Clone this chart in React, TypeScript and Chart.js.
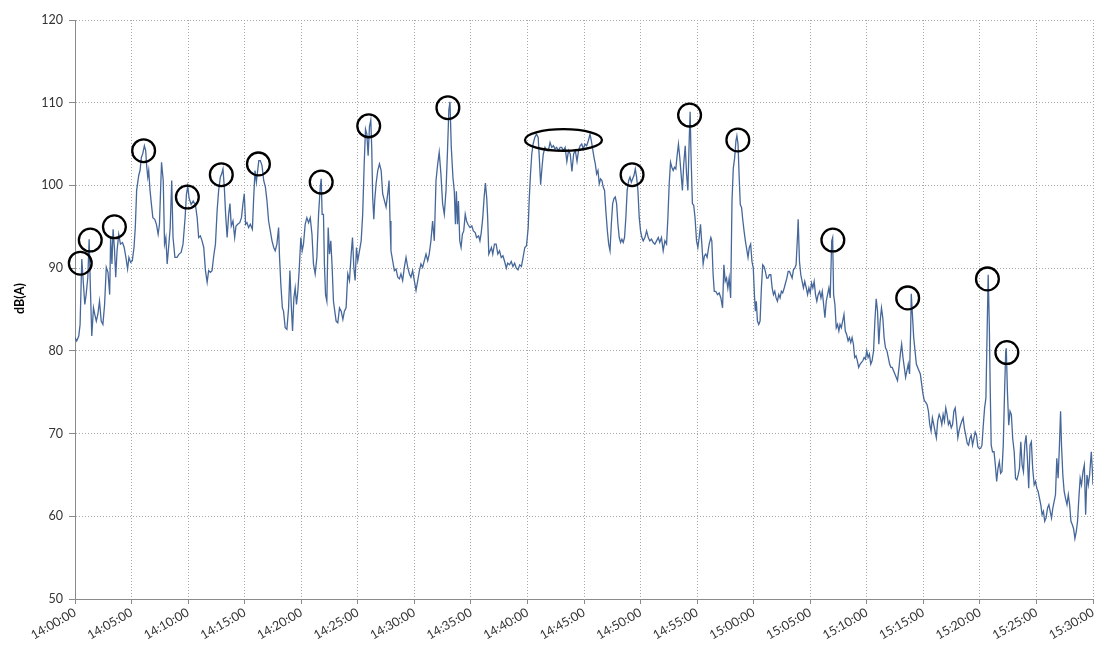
import { useEffect, useRef } from "react";
import { Chart, registerables } from "chart.js";

Chart.register(...registerables);

// ---- data -------------------------------------------------------------
const START_HOUR = 14; // 14:00:00
const X_MIN = 0;
const X_MAX = 5400; // seconds after 14:00:00 (15:30:00)
const X_TICK_STEP = 300; // 5 minutes
const Y_MIN = 50;
const Y_MAX = 120;
const Y_TICK_STEP = 10;
const Y_TITLE = "dB(A)";

// sample times, seconds after 14:00:00
const SECONDS: number[] = [
  0, 9, 20, 27, 36, 45, 52, 59, 68, 75, 82, 89, 98, 105, 113, 121, 130, 139, 148, 157, 166, 175, 184, 189, 196, 202, 209, 216, 223, 232, 241, 252, 261, 270, 279, 286, 295, 304, 313, 320, 327, 338, 345, 352, 359, 368, 375, 380, 386, 391, 398, 405, 413, 423, 432, 441, 448, 459, 468, 475, 482, 489, 498, 505, 513, 520, 530, 541, 552, 563, 573, 584, 591, 598, 605, 616, 627,
  639, 648, 656, 665, 674, 683, 692, 701, 709, 718, 727, 736, 745, 754, 762, 771, 778, 785, 792, 799, 807, 815, 822, 829, 838, 847, 854, 863, 874, 883, 891, 898, 905, 912, 921, 930, 941, 948, 955, 962, 969, 975, 983, 992, 1001, 1010, 1018, 1027, 1036, 1045, 1054, 1062, 1071, 1080, 1085, 1092, 1100, 1106, 1115, 1124, 1133, 1140, 1147, 1154, 1161, 1168, 1175, 1182, 1189, 1198, 1205, 1212, 1221, 1230, 1239, 1248, 1257, 1265, 1274, 1283, 1292, 1301, 1306,
  1311, 1318, 1323, 1329, 1336, 1343, 1350, 1357, 1364, 1371, 1378, 1385, 1394, 1403, 1412, 1421, 1429, 1438, 1447, 1456, 1465, 1472, 1479, 1486, 1493, 1500, 1509, 1518, 1526, 1534, 1541, 1548, 1555, 1562, 1569, 1574, 1579, 1585, 1590, 1597, 1606, 1615, 1624, 1632, 1641, 1650, 1659, 1666, 1671, 1676, 1685, 1694, 1703, 1712, 1721, 1729, 1738, 1747, 1756, 1765, 1774, 1782, 1791, 1800, 1809, 1818, 1827, 1835, 1844, 1853, 1862, 1871, 1879, 1888, 1897, 1906, 1915, 1924, 1932, 1941, 1950, 1959, 1968, 1976, 1983, 1989, 1996,
  2005, 2012, 2018, 2023, 2029, 2034, 2041, 2048, 2055, 2062, 2070, 2077, 2084, 2095, 2105, 2113, 2123, 2130, 2141, 2148, 2155, 2163, 2170, 2177, 2184, 2189, 2195, 2202, 2209, 2216, 2225, 2234, 2243, 2252, 2261, 2270, 2279, 2288, 2295, 2305, 2314, 2323, 2332, 2341, 2350, 2359, 2368, 2377, 2386, 2395, 2404, 2409, 2416, 2423, 2430, 2439, 2448, 2457, 2463, 2470, 2477, 2484, 2493, 2502, 2511, 2520, 2529, 2538, 2546, 2555, 2564, 2573, 2582, 2591, 2600, 2609, 2618, 2627, 2636, 2645, 2654, 2663, 2671,
  2679, 2688, 2696, 2705, 2714, 2723, 2732, 2739, 2746, 2753, 2760, 2767, 2774, 2781, 2788, 2795, 2802, 2809, 2816, 2824, 2831, 2838, 2845, 2852, 2859, 2866, 2873, 2880, 2887, 2894, 2901, 2908, 2915, 2922, 2929, 2937, 2944, 2951, 2958, 2965, 2972, 2979, 2986, 2993, 3000, 3007, 3014, 3023, 3032, 3041, 3049, 3058, 3067, 3076, 3085, 3094, 3102, 3111, 3120, 3129, 3138, 3145, 3152, 3159, 3166, 3173, 3180, 3187, 3194, 3201, 3208, 3215, 3222, 3229, 3237, 3244, 3251, 3258, 3263, 3268, 3275, 3282, 3289, 3297, 3304, 3311, 3318, 3325, 3332, 3339, 3346, 3353,
  3364, 3373, 3378, 3385, 3391, 3399, 3408, 3417, 3426, 3435, 3442, 3449, 3456, 3463, 3470, 3478, 3485, 3492, 3499, 3506, 3511, 3517, 3524, 3529, 3536, 3541, 3549, 3556, 3563, 3570, 3577, 3584, 3591, 3598, 3604, 3609, 3614, 3620, 3627, 3634, 3641, 3648, 3655, 3662, 3669, 3676, 3683, 3691, 3698, 3705, 3712, 3719, 3726, 3733, 3740, 3747, 3754, 3762, 3769, 3776, 3783, 3790, 3797, 3804, 3811, 3818, 3825, 3833, 3836, 3843, 3850, 3857, 3864, 3871, 3879, 3886, 3893, 3900, 3907, 3914, 3921, 3928, 3935, 3942, 3950, 3957, 3964, 3971, 3978, 3985, 3992, 3999, 4006, 4014, 4019, 4024, 4031, 4038, 4045, 4052,
  4058, 4065, 4072, 4079, 4086, 4093, 4101, 4108, 4115, 4122, 4129, 4136, 4143, 4150, 4157, 4165, 4172, 4179, 4186, 4193, 4200, 4207, 4214, 4221, 4228, 4236, 4243, 4250, 4257, 4264, 4271, 4278, 4285, 4292, 4299, 4307, 4314, 4321, 4328, 4335, 4342, 4349, 4356, 4363, 4371, 4378, 4385, 4392, 4399, 4406, 4413, 4420, 4427, 4433, 4436, 4441, 4449, 4456, 4463, 4470, 4477, 4484, 4491, 4498, 4505, 4512, 4520, 4527, 4534, 4541, 4548, 4555, 4562, 4569, 4576, 4584, 4591, 4598, 4605, 4612, 4619, 4626, 4633, 4640, 4648, 4655, 4662, 4669, 4676, 4683,
  4690, 4697, 4704, 4711, 4718, 4725, 4733, 4740, 4747, 4754, 4761, 4768, 4775, 4782, 4789, 4796, 4804, 4811, 4818, 4825, 4832, 4839, 4844, 4850, 4855, 4860, 4867, 4875, 4882, 4889, 4896, 4903, 4910, 4917, 4924, 4931, 4937, 4940, 4946, 4953, 4960, 4967, 4974, 4982, 4989, 4996, 5003, 5010, 5017, 5024, 5031, 5038, 5045, 5052, 5059, 5066, 5073, 5080, 5088, 5095, 5102, 5109, 5116, 5123, 5130, 5137, 5144, 5151, 5159, 5166, 5173, 5180, 5187, 5194, 5201, 5208, 5215, 5222, 5228, 5233, 5240, 5247, 5254, 5262, 5269, 5276, 5283, 5290, 5297, 5304, 5311, 5318, 5325, 5332, 5339, 5347, 5354, 5361, 5368, 5375, 5382, 5391, 5396, 5400,
];

// sound level, dB(A)
const LEVELS: number[] = [
  81.6, 81.2, 81.8, 83.2, 91.1, 88.0, 85.6, 86.8, 88.9, 93.5, 87.3, 81.8, 85.2, 84.4, 83.6, 84.4, 86.0, 83.6, 83.2, 85.6, 90.1, 89.5, 86.8, 93.7, 90.5, 94.7, 92.5, 88.9, 92.1, 94.1, 92.9, 93.1, 92.5, 91.3, 89.9, 91.3, 90.7, 90.9, 92.5, 95.0, 99.4, 101.2, 101.8, 103.4, 103.8, 104.8, 104.2, 102.4, 101.0, 101.8, 99.4, 97.8, 96.1, 95.9, 95.3, 94.1, 95.3, 102.8, 100.6, 92.9, 93.7, 90.5, 92.9, 94.9, 100.6, 93.7, 91.3, 91.3, 91.7, 91.9, 92.9, 96.1, 98.9, 99.9, 98.5, 97.7, 98.1,
  97.6, 96.1, 93.7, 93.9, 93.3, 92.5, 89.7, 88.3, 89.7, 89.5, 89.7, 91.5, 92.9, 97.0, 99.4, 101.0, 101.4, 102.0, 99.8, 96.5, 93.7, 96.5, 97.8, 95.1, 95.7, 93.7, 95.1, 95.3, 95.5, 96.1, 97.8, 99.0, 95.3, 95.5, 94.9, 95.3, 94.7, 98.6, 101.8, 100.4, 101.8, 103.0, 103.0, 102.4, 100.6, 99.8, 98.2, 95.7, 94.5, 93.3, 92.5, 92.1, 92.9, 94.9, 91.3, 88.0, 85.2, 84.8, 82.8, 82.6, 85.2, 89.7, 85.6, 82.4, 86.4, 87.6, 85.6, 87.2, 89.7, 93.7, 92.1, 92.9, 95.3, 96.1, 95.5, 96.1, 94.1, 90.5, 89.3, 91.3, 96.5, 99.8, 100.8,
  96.5, 96.5, 90.5, 86.8, 86.0, 94.9, 91.7, 93.3, 90.1, 86.0, 84.8, 83.6, 83.4, 85.2, 84.8, 83.8, 84.8, 85.2, 89.3, 88.5, 91.7, 93.7, 90.1, 88.5, 92.5, 90.9, 92.1, 93.3, 96.5, 102.6, 106.8, 106.2, 103.6, 107.1, 107.9, 104.6, 98.6, 95.9, 98.2, 100.2, 101.8, 102.6, 101.8, 99.0, 98.2, 97.4, 99.0, 100.6, 95.7, 92.1, 90.9, 89.7, 89.9, 88.9, 88.7, 89.3, 88.5, 90.1, 91.3, 90.1, 89.3, 88.9, 89.7, 88.5, 87.3, 88.5, 89.7, 90.5, 90.1, 90.9, 91.7, 90.9, 91.7, 93.3, 95.7, 93.3, 100.6, 102.6, 104.0, 101.4, 97.8, 96.5, 99.4, 104.2, 109.1, 110.1, 104.6,
  100.9, 99.3, 95.3, 99.3, 95.3, 98.1, 93.3, 92.5, 94.1, 94.5, 96.5, 95.7, 95.3, 94.9, 95.1, 94.5, 94.3, 93.7, 93.9, 93.3, 94.3, 96.1, 98.5, 100.3, 98.5, 96.1, 91.7, 92.1, 92.5, 91.7, 92.9, 92.9, 91.7, 92.1, 91.3, 91.5, 90.8, 90.0, 90.6, 90.4, 90.8, 90.2, 90.6, 90.0, 89.8, 90.4, 90.2, 91.3, 92.5, 92.7, 94.9, 98.1, 101.3, 103.8, 105.0, 105.8, 106.2, 105.8, 103.3, 100.1, 102.1, 103.8, 104.6, 104.2, 104.2, 105.2, 104.6, 104.8, 104.4, 104.6, 104.2, 104.6, 104.6, 104.2, 104.6, 102.9, 104.2, 103.8, 101.7, 103.8, 104.2, 102.9, 104.2,
  104.8, 105.0, 104.4, 105.0, 104.8, 105.4, 106.2, 105.4, 104.4, 103.4, 102.6, 101.4, 101.8, 100.2, 100.8, 100.6, 99.8, 99.4, 96.9, 94.5, 92.9, 92.1, 95.3, 97.8, 98.4, 98.6, 97.8, 95.3, 93.7, 93.1, 93.5, 93.1, 93.7, 96.1, 99.4, 100.6, 101.0, 100.4, 100.8, 101.2, 102.0, 101.0, 99.4, 96.1, 94.5, 93.7, 93.3, 93.7, 94.5, 93.7, 93.3, 93.5, 93.1, 92.9, 93.3, 93.7, 93.1, 93.7, 92.1, 93.3, 92.9, 96.1, 100.2, 102.8, 102.2, 101.8, 102.2, 102.0, 103.6, 105.0, 103.4, 101.4, 99.4, 102.6, 104.8, 101.4, 99.4, 105.4, 108.9, 103.4, 97.8, 97.6, 96.1, 93.3, 92.5, 93.7, 95.3, 92.9, 90.5, 91.5, 91.7, 91.3,
  92.9, 93.7, 93.3, 89.2, 87.2, 87.2, 86.8, 87.0, 86.4, 85.2, 90.4, 88.4, 88.8, 87.6, 88.8, 86.4, 98.1, 102.1, 103.3, 105.4, 106.0, 105.0, 100.5, 97.7, 97.3, 96.1, 94.5, 93.3, 92.3, 91.3, 92.5, 92.9, 90.8, 90.0, 86.8, 84.8, 86.0, 83.6, 83.2, 83.6, 87.6, 90.4, 90.2, 89.6, 88.8, 88.8, 89.2, 89.2, 87.6, 86.8, 87.2, 86.4, 86.0, 86.8, 86.4, 87.2, 87.0, 87.6, 88.2, 88.8, 89.6, 89.6, 89.2, 88.8, 89.8, 90.0, 90.4, 94.1, 95.9, 90.8, 89.2, 88.4, 87.6, 88.4, 87.6, 86.8, 87.6, 87.0, 88.2, 87.6, 88.4, 86.8, 86.0, 86.8, 87.2, 86.4, 87.2, 85.6, 84.0, 86.0, 86.8, 87.6, 86.4, 93.3, 93.7, 86.8, 85.6, 82.8, 83.2, 82.4,
  83.2, 82.8, 83.6, 84.4, 82.4, 82.0, 81.2, 81.6, 81.0, 81.6, 80.8, 79.2, 79.4, 78.8, 78.0, 78.4, 78.6, 78.8, 79.2, 79.0, 80.0, 79.2, 79.6, 78.4, 78.8, 80.0, 83.6, 86.3, 84.8, 80.8, 83.6, 85.2, 84.0, 81.6, 80.4, 80.0, 79.2, 78.4, 78.0, 78.0, 77.6, 77.2, 76.8, 76.4, 78.0, 79.6, 80.8, 79.2, 78.0, 76.8, 77.6, 78.4, 77.2, 82.8, 86.9, 84.8, 81.6, 80.0, 78.4, 78.0, 77.6, 77.2, 76.0, 74.8, 74.0, 73.8, 73.5, 72.7, 71.1, 70.3, 71.9, 71.1, 70.3, 69.5, 71.5, 72.3, 71.9, 71.1, 72.3, 71.5, 73.1, 72.3, 71.1, 71.5, 70.7, 71.1, 72.7, 73.1, 71.5, 69.5,
  70.4, 71.0, 71.5, 71.9, 70.6, 69.8, 68.8, 68.6, 69.4, 69.8, 68.6, 69.4, 70.2, 69.8, 68.4, 68.2, 68.2, 68.6, 71.0, 73.1, 74.3, 83.1, 89.2, 83.1, 75.1, 68.6, 67.8, 67.8, 66.2, 64.2, 65.8, 66.6, 65.2, 65.4, 68.6, 75.1, 79.9, 80.3, 75.1, 71.0, 72.7, 72.3, 69.4, 67.8, 64.6, 64.4, 65.0, 65.8, 69.0, 66.2, 65.4, 68.6, 69.8, 67.0, 63.4, 68.6, 69.0, 65.8, 63.8, 64.2, 63.4, 63.0, 62.2, 61.4, 60.2, 60.6, 59.4, 59.8, 61.0, 61.4, 60.6, 59.8, 61.0, 61.8, 62.6, 67.0, 64.6, 68.6, 72.7, 68.6, 65.0, 63.0, 62.2, 61.4, 62.6, 61.4, 59.4, 59.0, 58.5, 57.3, 58.1, 59.4, 62.2, 64.6, 63.8, 65.4, 66.2, 60.2, 65.0, 63.8, 65.0, 67.8, 65.8, 63.8,
];

// circled peaks (centre of each circle)
const PEAK_SECONDS = [28, 81, 209, 364, 596, 776, 973, 1306, 1558, 1978, 2955, 3260, 3516, 4020, 4417, 4840, 4943];
const PEAK_LEVELS = [90.6, 93.4, 95.0, 104.2, 98.6, 101.3, 102.6, 100.4, 107.2, 109.4, 101.3, 108.5, 105.5, 93.4, 86.4, 88.7, 79.8];

// circled plateau (centre of the ellipse)
const PLATEAU_SECONDS = [2591];
const PLATEAU_LEVELS = [105.5];

// ---- helpers ----------------------------------------------------------
const pad2 = (n: number) => String(n).padStart(2, "0");
const formatTime = (sec: number) => {
  const total = START_HOUR * 3600 + Math.round(sec);
  const h = Math.floor(total / 3600);
  const m = Math.floor((total % 3600) / 60);
  const s = total % 60;
  return `${h}:${pad2(m)}:${pad2(s)}`;
};

const LINE_COLOR = "#46679a";
const GRID_COLOR = "#a8a8a8";
const AXIS_COLOR = "#8a8a8a";
const TEXT_COLOR = "#333333";
const FONT_FAMILY = "Lato, 'Open Sans', sans-serif";

const plateauPlugin = {
  id: "plateauEllipse",
  afterDatasetsDraw(chart: any) {
    const { ctx, scales } = chart;
    const xs = scales.x;
    const ys = scales.y;
    ctx.save();
    ctx.strokeStyle = "#000000";
    ctx.lineWidth = 2.3;
    PLATEAU_SECONDS.forEach((s, i) => {
      const cx = xs.getPixelForValue(s);
      const cy = ys.getPixelForValue(PLATEAU_LEVELS[i]);
      ctx.beginPath();
      ctx.ellipse(cx, cy, 38.5, 10.8, 0, 0, Math.PI * 2);
      ctx.stroke();
    });
    ctx.restore();
  },
};

// y-axis title, drawn slightly above the middle of the axis as in the original
const yTitlePlugin = {
  id: "yTitle",
  afterDraw(chart: any) {
    const { ctx, chartArea } = chart;
    ctx.save();
    ctx.translate(20, (chartArea.top + chartArea.bottom) / 2 - 11);
    ctx.rotate(-Math.PI / 2);
    ctx.textAlign = "center";
    ctx.textBaseline = "middle";
    ctx.fillStyle = "#000000";
    ctx.font = `bold 12.5px ${FONT_FAMILY}`;
    ctx.fillText(Y_TITLE, 0, 0);
    ctx.restore();
  },
};

export default function App() {
  const canvasRef = useRef<HTMLCanvasElement | null>(null);

  useEffect(() => {
    const canvas = canvasRef.current;
    if (!canvas) return;

    const chart = new Chart(canvas, {
      type: "line",
      data: {
        datasets: [
          {
            label: "Sound level",
            data: SECONDS.map((s, i) => ({ x: s, y: LEVELS[i] })),
            borderColor: LINE_COLOR,
            borderWidth: 1.3,
            pointRadius: 0,
            tension: 0,
            fill: false,
            order: 2,
          },
          {
            label: "Peaks",
            data: PEAK_SECONDS.map((s, i) => ({ x: s, y: PEAK_LEVELS[i] })),
            showLine: false,
            pointRadius: 11.4,
            pointHoverRadius: 11.4,
            pointBorderWidth: 2.3,
            pointBorderColor: "#000000",
            pointBackgroundColor: "rgba(0,0,0,0)",
            clip: false,
            order: 1,
          },
        ],
      },
      options: {
        animation: false,
        responsive: false,
        events: [],
        layout: { autoPadding: false, padding: { top: 20, right: 2, left: 0, bottom: 0 } },
        plugins: {
          legend: { display: false },
          tooltip: { enabled: false },
          title: { display: false },
        },
        scales: {
          x: {
            type: "linear",
            min: X_MIN,
            max: X_MAX,
            afterFit: (s: any) => {
              s.height = 56;
              s.paddingLeft = 0;
              s.paddingRight = 0;
            },
            ticks: {
              stepSize: X_TICK_STEP,
              autoSkip: false,
              minRotation: 30,
              maxRotation: 30,
              padding: 1,
              color: TEXT_COLOR,
              font: { family: FONT_FAMILY, size: 12.5 },
              callback: (v: any) => formatTime(Number(v)),
            },
            grid: {
              color: GRID_COLOR,
              lineWidth: 1,
              tickLength: 5,
              tickColor: AXIS_COLOR,
              tickBorderDash: [],
            },
            border: { color: AXIS_COLOR, width: 1, dash: [1, 2] },
          },
          y: {
            min: Y_MIN,
            max: Y_MAX,
            afterFit: (s: any) => {
              s.width = 75;
              s.paddingTop = 0;
              s.paddingBottom = 0;
            },
            ticks: {
              stepSize: Y_TICK_STEP,
              padding: 6,
              color: TEXT_COLOR,
              font: { family: FONT_FAMILY, size: 12.5 },
            },
            grid: {
              color: GRID_COLOR,
              lineWidth: 1,
              tickLength: 6,
              tickColor: AXIS_COLOR,
              tickBorderDash: [],
            },
            border: { color: AXIS_COLOR, width: 1, dash: [1, 2] },
            title: { display: false },
          },
        },
      },
      plugins: [plateauPlugin, yTitlePlugin],
    });

    return () => chart.destroy();
  }, []);

  return (
    <div style={{ position: "absolute", left: 0, top: 0, width: 1095, height: 655 }}>
      <canvas ref={canvasRef} width={1095} height={655} style={{ width: 1095, height: 655, display: "block" }} />
    </div>
  );
}
